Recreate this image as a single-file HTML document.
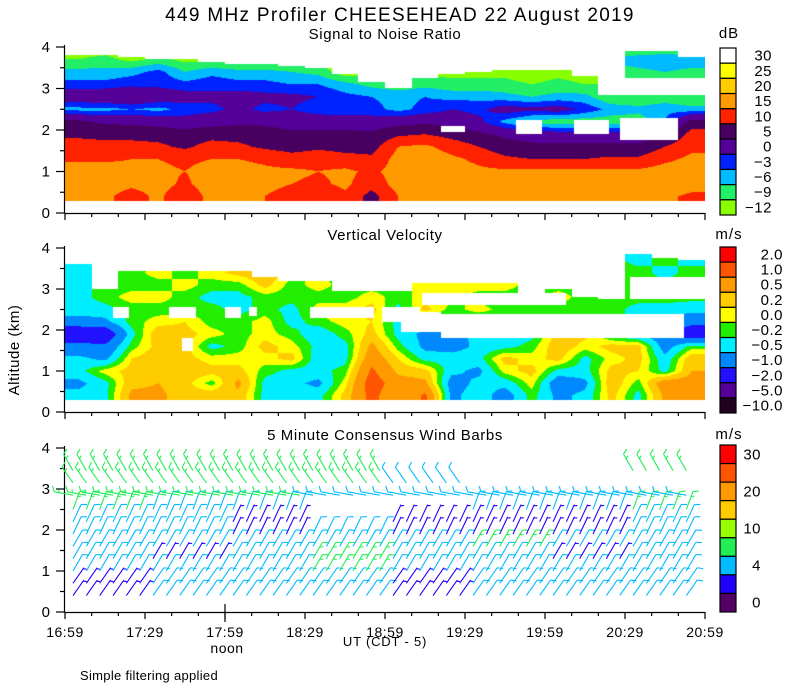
<!DOCTYPE html>
<html><head><meta charset="utf-8">
<style>
html,body{margin:0;padding:0;background:#fff;}
#wrap{position:relative;width:800px;height:700px;overflow:hidden;font-family:"Liberation Sans",sans-serif;}
canvas{position:absolute;}
svg{position:absolute;left:0;top:0;}
text{font-family:"Liberation Sans",sans-serif;fill:#000;}
</style></head>
<body>
<div id="wrap">
<canvas id="cSnr"></canvas>
<canvas id="cVv"></canvas>
<svg id="svg" width="800" height="700"></svg>
</div>
<script>
// ---------- shared axis data ----------
const timeTickLabels = ["16:59","17:29","17:59","18:29","18:59","19:29","19:59","20:29","20:59"];
const altTickLabels = ["0","1","2","3","4"];

// ---------- SNR data (dB) ----------
const snrTimes = [5,15,25,35,45,55,65,75,85,95,105,115,125,135,145,155,165,175,185,195,205,215,225,235]; // minutes after 16:59
const snrAlts = [0.4,0.7,1.0,1.3,1.6,1.9,2.2,2.5,2.8,3.1,3.4,3.7,4.0];
const snrDb = [
[17,18,19,14,12,9,6,-4,3,-2,-5,-9,-11],
[16,17,18,14,11,9,4,-4,4,-2,-5,-8,-11],
[13,16,17,15,12,8,4,-3,5,-1,-4,-10,-11],
[16,17,16,15,11,8,3,-4,3,-1,-2,-8,-11],
[11,14,15,14,9,7,2,-2,2,-2,-6,-10,-11],
[17,18,17,15,12,8,3,-1,1,-1,-4,-10,-11],
[16,18,17,15,11,8,4,1,2,-2,-5,-11,-11],
[15,17,16,14,9,7,4,-1,1,-2,-5,-11,-11],
[12,15,16,12,8,6,3,0,1,-3,-6,-11,-11],
[11,14,15,13,9,6,3,-2,0,-3,-7,-11,-11],
[14,16,16,12,8,6,3,-3,-2,-5,-11,-11,-11],
[8,12,14,11,8,6,2,-2,-3,-7,-10,-11,-11],
[15,17,17,17,15,9,3,-4,-4,-8,-11,-11,-11],
[17,18,18,18,16,10,4,-2,-3,-7,-10,-11,-11],
[16,17,17,16,13,8,3,0,-4,-8,-10,-11,-11],
[16,17,16,14,10,6,1,-1,-4,-8,-10,-11,-11],
[17,18,16,11,7,4,-4,2,-5,-8,-10,-11,-11],
[18,18,16,10,6,3,-7,1,-6,-9,-11,-11,-11],
[18,19,16,10,6,2,-8,2,-5,-8,-10,-11,-11],
[17,18,16,10,6,2,-8,-1,-5,-9,-11,-11,-11],
[17,18,16,11,6,2,-8,-4,-9,-9,-8,-5,-10],
[17,18,16,11,6,2,-8,-5,-9,-9,-7,-4,-10],
[16,18,17,14,10,4,-3,-4,-8,-9,-6,-3,-10],
[14,17,17,16,14,12,7,-5,-9,-9,-7,-4,-10]];
const snrTop = [3.8,3.8,3.75,3.7,3.7,3.65,3.6,3.6,3.55,3.5,3.35,3.15,3.0,3.25,3.35,3.4,3.45,3.45,3.45,3.3,3.2,3.9,3.9,3.75];
const snrGaps = [[141,150,1.95,2.1],[169,179,1.9,2.25],[191,204,1.9,2.25],[208,230,1.75,2.3],[200,240,2.85,3.25]];
const snrBounds = [-9,-6,-3,0,5,10,15,20,25,30];
const snrColors = ["#88ff00","#22ee66","#00bbff","#0022ff","#550099","#480060","#ff2200","#ff9900","#ffcc00","#ffff00","#ffffff"];
const snrLabels = ["30","25","20","15","10","5","0","\u22123","\u22126","\u22129","\u221212"];

// ---------- Vertical velocity data (m/s) ----------
const vvTimes = snrTimes.slice();
const vvAlts = [0.4,0.7,1.0,1.3,1.6,1.9,2.2,2.5,2.8,3.1,3.4,3.7];
const vvMs = [
[-0.4,-0.6,-0.3,-0.4,-0.8,-1.5,-0.7,-0.3,-0.3,-0.3,-0.4,-0.3],
[-0.3,-0.3,0.1,-0.6,-0.9,-1.5,-0.6,-0.3,-0.1,-0.1,-0.3,-0.3],
[0.6,0.4,0.3,0.2,-0.1,-0.3,-0.1,-0.1,0.1,-0.1,-0.1,-0.1],
[0.6,0.5,0.4,0.4,0.3,0.4,0.1,-0.1,0.1,-0.1,0.1,0],
[0.3,0.3,0.4,0.3,0.3,0.3,0.2,-0.1,-0.1,0.1,-0.1,0.1],
[0.4,-0.1,0.3,0.1,-0.3,0.1,-0.1,-0.1,-0.3,-0.1,0.1,0],
[0.4,0.6,0.3,0.1,-0.1,-0.1,-0.1,-0.3,-0.3,-0.1,0.3,0],
[-0.3,-0.3,-0.1,0.1,0.3,0.1,0.1,-0.1,-0.1,0.3,0.4,0.1],
[-0.3,-0.4,-0.3,0.3,0.1,-0.1,-0.3,-0.3,-0.1,-0.1,0.1,0],
[-0.3,-0.6,-0.3,-0.4,-0.3,-0.4,-0.1,0.1,-0.1,0.1,-0.1,0],
[0.3,0.1,-0.1,-0.3,-0.3,-0.1,0.1,0.1,-0.1,-0.1,0,0],
[1.2,1.3,1.1,0.8,0.6,0.3,0.2,0.3,0.1,-0.1,0,0],
[0.5,0.7,0.4,0.2,-0.1,-0.3,-0.3,-0.3,-0.1,-0.1,0,0],
[1.1,0.6,0.3,-0.3,-0.6,-0.6,-0.3,0.3,0.1,0.1,0.3,0],
[-0.6,-0.7,-0.4,-0.3,-0.7,-0.8,-0.3,-0.1,0.1,0.1,0,0],
[-0.3,-0.4,-0.6,-0.3,-0.4,-0.3,-0.3,0.1,-0.1,0.1,0,0],
[-0.7,-0.4,0.1,0.3,-0.3,-0.4,-0.1,-0.1,-0.1,0.1,0,0],
[-0.1,0.1,0.3,0.1,-0.1,-0.3,0.1,-0.1,-0.1,-0.1,0,0],
[-0.6,-0.8,-0.3,0.3,0.4,0.3,-0.1,-0.1,0.1,-0.1,0,0],
[-0.4,-0.6,-0.3,-0.3,0.1,0.3,-0.1,-0.1,-0.1,-0.1,0,0],
[0.3,0.4,0.3,0.1,0.3,-0.3,-0.1,-0.1,-0.1,-0.1,-0.1,-0.1],
[-0.3,-0.1,0.2,0.3,0.3,-0.6,-0.3,-0.3,-0.1,-0.1,-0.1,-0.3],
[0.6,0.8,-0.3,-0.4,-0.7,-0.8,-0.6,-0.3,-0.1,-0.1,-0.3,-0.1],
[0.6,0.7,0.5,0.4,-0.1,-1.5,-0.8,-0.4,-0.1,-0.1,-0.1,-0.3]];
const vvTop = [3.6,3.0,3.45,3.45,3.45,3.45,3.45,3.3,3.2,3.2,2.95,2.95,2.95,3.15,3.15,3.15,3.15,2.9,3.0,2.8,2.75,3.85,3.75,3.7];
const vvGaps = [[18,24,2.3,2.55],[39,49,2.3,2.55],[44,48,1.5,1.8],[60,66,2.3,2.55],[69,72,2.35,2.55],[92,116,2.3,2.55],[119,133,2.2,2.55],[126,141,1.95,2.45],[141,232,1.8,2.4],[134,188,2.6,2.9],[191,203,2.8,3.05],[212,240,2.75,3.3]];
const vvBounds = [-5,-2,-1,-0.5,-0.2,0,0.2,0.5,1,2];
const vvColors = ["#220022","#550099","#2211ff","#0088ff","#00eeff","#22ee00","#ffff00","#ffcc00","#ff9900","#ff5500","#ff0000"];
const vvLabels = ["2.0","1.0","0.5","0.2","0.0","\u22120.2","\u22120.5","\u22121.0","\u22122.0","\u22125.0","\u221210.0"];

// ---------- Wind barbs ----------
const windTimes = [3,8,13,18,23,28,33,38,43,48,53,58,63,68,73,78,83,88,93,98,103,108,113,118,123,128,133,138,143,148,153,158,163,168,173,178,183,188,193,198,203,208,213,218,223,228,233];
const windAlts = [0.4,0.7,1.0,1.3,1.6,1.9,2.2,2.5,2.85,3.15,3.45];
const windDir = [35,35,30,30,30,25,25,20,280,325,330];
const windSpd = [ // per 30-minute segment, null = missing
[3,5,5,5,3,5,5,5],
[3,5,5,5,3,5,5,5],
[5,5,5,8,5,5,5,5],
[5,3,5,8,5,5,3,5],
[5,5,5,5,5,8,5,5],
[5,5,3,5,3,3,3,5],
[5,5,3,null,3,3,3,5],
[8,5,5,null,null,5,5,8],
[8,8,8,5,5,5,5,5],
[8,8,8,8,5,null,null,null],
[8,8,8,8,null,null,null,8]];
const windBounds = [2,4,7,10,15,20,25,30];
const windColors = ["#550066","#2200ff","#00bbff","#22ee55","#99ff00","#ffcc00","#ff9900","#ff5500","#ff0000"];
const windLabels = [["30",0],["20",2],["10",4],["4",6],["0",8]];

// ---------- geometry ----------
const X0 = 65, X1 = 705;
const panels = [
 {y0:213, km:41.5, title:"Signal to Noise Ratio", unit:"dB"},
 {y0:412, km:41, title:"Vertical Velocity", unit:"m/s"},
 {y0:612, km:41, title:"5 Minute Consensus Wind Barbs", unit:"m/s"}];
function xOf(t){return X0 + (t/240)*(X1-X0);}
function yOf(p,a){return p.y0 - a*p.km;}

const svg = document.getElementById('svg');
const NS = "http://www.w3.org/2000/svg";
function mk(tag, attrs, parent){
  const e = document.createElementNS(NS, tag);
  for (const k in attrs) e.setAttribute(k, attrs[k]);
  (parent||svg).appendChild(e); return e;
}
function txt(s, x, y, size, anchor, name, ls){
  const t = mk('text', {x:x, y:y, 'font-size':size, 'text-anchor':anchor||'middle'});
  if (ls) t.setAttribute('letter-spacing', ls);
  t.textContent = s;
  
  
  return t;
}

// ---------- heatmap rendering ----------
function binIndex(v, bounds){let i=0; while(i<bounds.length && v>=bounds[i]) i++; return i;}
function hex(c){return [parseInt(c.substr(1,2),16),parseInt(c.substr(3,2),16),parseInt(c.substr(5,2),16)];}
function drawHeat(canvas, p, times, alts, grid, tops, gaps, bounds, colors){
  const W = X1-X0, H = Math.round(4*p.km);
  canvas.width = W; canvas.height = H;
  canvas.style.left = X0+'px'; canvas.style.top = (p.y0-H)+'px';
  const ctx = canvas.getContext('2d');
  const img = ctx.createImageData(W,H);
  const cols = colors.map(hex);
  const dt = times[1]-times[0], da = alts[1]-alts[0];
  for (let py=0; py<H; py++){
    const a = 4 - (py+0.5)/p.km;
    if (a < 0.3) continue;
    for (let px=0; px<W; px++){
      const t = (px+0.5)/W*240;
      let ci = Math.round((t-times[0])/dt); ci = Math.max(0,Math.min(times.length-1,ci));
      if (a > tops[ci]) continue;
      let gap=false;
      for (const g of gaps){ if (t>=g[0]&&t<=g[1]&&a>=g[2]&&a<=g[3]){gap=true;break;} }
      if (gap) continue;
      let fx = (t-times[0])/dt, fy = (a-alts[0])/da;
      fx = Math.max(0,Math.min(times.length-1.0001,fx)); fy = Math.max(0,Math.min(alts.length-1.0001,fy));
      const i0=Math.floor(fx), j0=Math.floor(fy), ux=fx-i0, uy=fy-j0;
      const v = grid[i0][j0]*(1-ux)*(1-uy)+grid[i0+1][j0]*ux*(1-uy)+grid[i0][j0+1]*(1-ux)*uy+grid[i0+1][j0+1]*ux*uy;
      const c = cols[binIndex(v,bounds)];
      const o = (py*W+px)*4;
      img.data[o]=c[0]; img.data[o+1]=c[1]; img.data[o+2]=c[2]; img.data[o+3]=255;
    }
  }
  ctx.putImageData(img,0,0);
}
drawHeat(document.getElementById('cSnr'), panels[0], snrTimes, snrAlts, snrDb, snrTop, snrGaps, snrBounds, snrColors);
drawHeat(document.getElementById('cVv'), panels[1], vvTimes, vvAlts, vvMs, vvTop, vvGaps, vvBounds, vvColors);

// ---------- axes ----------
panels.forEach((p, pi) => {
  const g = mk('g', {stroke:'#000','stroke-width':1.2, fill:'none'});
  
  
  mk('line', {x1:X0-0.5, y1:yOf(p,4)-2, x2:X0-0.5, y2:p.y0}, g);
  mk('line', {x1:X0-0.5, y1:p.y0+0.5, x2:X1, y2:p.y0+0.5}, g);
  for (let k=0;k<=8;k++){
    const y = yOf(p,k/2);
    mk('line', {x1:X0-(k%2===0?9:5), y1:y, x2:X0, y2:y}, g);
  }
  for (let m=0;m<=240;m+=10){
    const x = xOf(m);
    const major = m%30===0;
    mk('line', {x1:x, y1:p.y0, x2:x, y2:p.y0+(major?7:4)}, g);
  }
  altTickLabels.forEach((s,i)=>{ txt(s, 50, yOf(p,i)+5, 15, 'end', 'y-tick-label-'+s); });
  txt(p.title, 385, yOf(p,4)-8, 15, 'middle', 'panel-'+(pi+1)+'-title', 0.6);
  txt(p.unit, 729, yOf(p,4)-9, 15, 'middle', 'panel-'+(pi+1)+'-unit', 1);
});
// noon tick
mk('line', {x1:xOf(60), y1:panels[2].y0-8, x2:xOf(60), y2:panels[2].y0+10, stroke:'#000','stroke-width':1.2});

// ---------- colorbars ----------
function colorbar(top, bottom, colorsTopDown, labels, name, labelX){
  const n = colorsTopDown.length, h = (bottom-top)/n;
  const g = mk('g', {});
  
  
  colorsTopDown.forEach((c,i)=>{ mk('rect', {x:720, y:top+i*h, width:16, height:h, fill:c, stroke:'#000','stroke-width':1.2}, g); });
  labels.forEach(l=>{ txt(l[0], labelX, top+(l[1]+0.5)*h+5, 15, 'end', name+'-label', 0.5); });
}
colorbar(48, 215, snrColors.slice().reverse(), snrLabels.map((s,i)=>[s,i]), 'snr-colorbar', 772);
colorbar(247, 413, vvColors.slice().reverse(), vvLabels.map((s,i)=>[s,i]), 'vv-colorbar', 783);
colorbar(445, 612, windColors.slice().reverse(), windLabels, 'wind-colorbar', 761);

// ---------- wind barbs ----------
const wp = panels[2];
const barbG = mk('g', {'stroke-width':1.1, fill:'none'});


windAlts.forEach((a, ri) => {
  windTimes.forEach((t) => {
    const seg = Math.min(7, Math.floor(t/30));
    const s = windSpd[ri][seg];
    if (s === null || s === undefined) return;
    const col = windColors[binIndex(s, windBounds)];
    const d = windDir[ri]*Math.PI/180;
    const bx = xOf(t), by = yOf(wp, a);
    const L = 19;
    const ux = Math.sin(d), uy = -Math.cos(d);
    const tx = bx+ux*L, ty = by+uy*L;
    const b = mk('g', {stroke:col}, barbG);
    
    
    mk('line', {x1:bx, y1:by, x2:tx, y2:ty}, b);
    let full = Math.floor(s/5), half = (s%5)>=2.5?1:0;
    const px = -uy, py = ux;
    let k = 0;
    for (let f=0; f<full; f++, k++){
      const sx = tx-ux*k*4, sy = ty-uy*k*4;
      mk('line', {x1:sx, y1:sy, x2:sx+(px*0.9+ux*0.45)*6, y2:sy+(py*0.9+uy*0.45)*6}, b);
    }
    for (let f=0; f<half; f++, k++){
      const sx = tx-ux*(k+0.3)*4, sy = ty-uy*(k+0.3)*4;
      mk('line', {x1:sx, y1:sy, x2:sx+(px*0.9+ux*0.45)*3.5, y2:sy+(py*0.9+uy*0.45)*3.5}, b);
    }
  });
});

// ---------- text ----------
txt("449 MHz Profiler CHEESEHEAD 22 August 2019", 400, 21, 19, 'middle', 'figure-title', 1.3);
timeTickLabels.forEach((s,i)=>{ txt(s, xOf(i*30), 637, 14, 'middle', 'x-tick-label-'+s, 0.5); });
txt("UT  (CDT - 5)", 385, 646, 13, 'middle', 'x-axis-title', 0.8);
txt("noon", 227, 653, 14, 'middle', 'noon-label', 0.5);
txt("Simple filtering applied", 80, 680, 13, 'start', 'filter-note', 0.3);
const yl = txt("Altitude (km)", 0, 0, 15, 'middle', 'y-axis-title', 0.5);
yl.setAttribute('transform', 'translate(19,350) rotate(-90)');
</script>
</body></html>
